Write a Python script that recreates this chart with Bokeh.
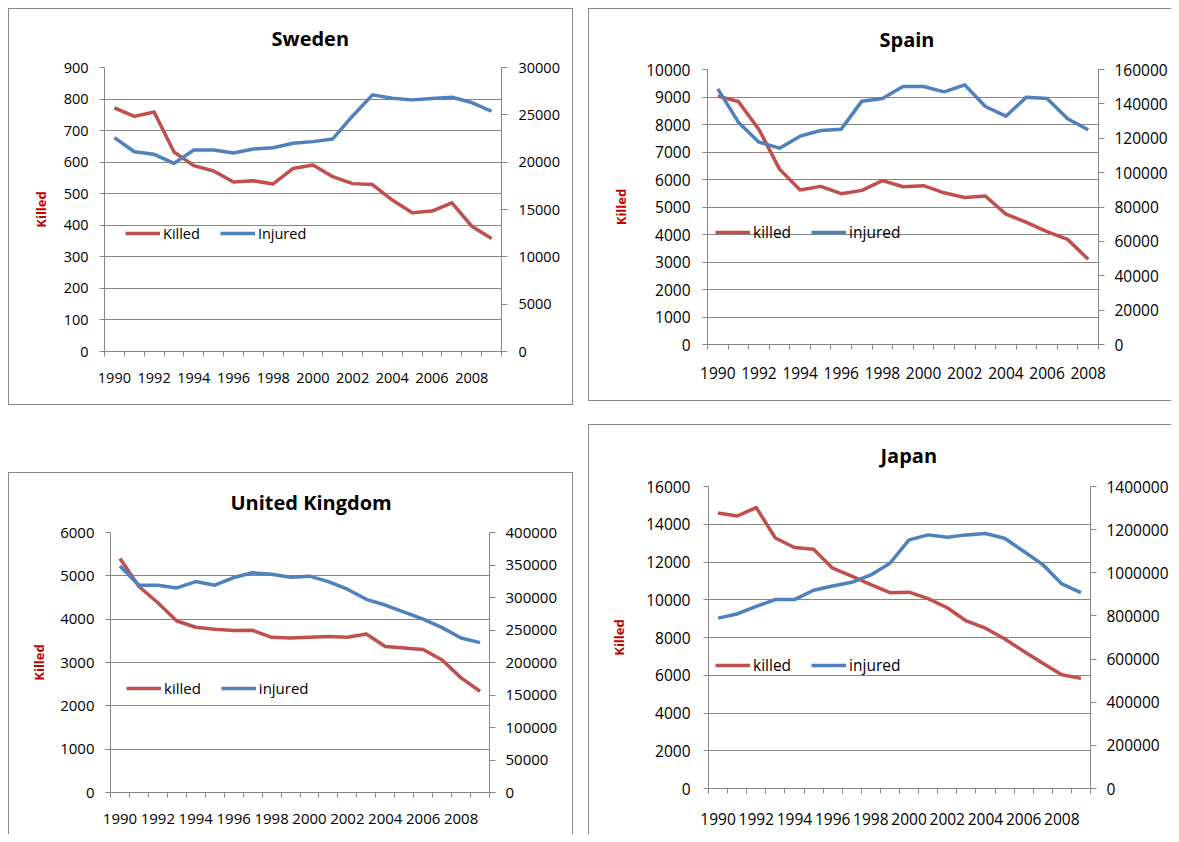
from bokeh.plotting import figure
from bokeh.models import (Range1d, LinearAxis, FixedTicker, SingleIntervalTicker,
                          BasicTickFormatter, Legend, LegendItem, Spacer)
from bokeh.layouts import row, column
from bokeh.embed import file_html
from bokeh.resources import INLINE

# ---------------- data ----------------
years_sweden = list(range(1990, 2010))
sweden_killed = [772, 745, 759, 632, 589, 572, 537, 541, 531, 580,
                 591, 554, 532, 529, 480, 440, 445, 471, 397, 358]
sweden_injured = [22590, 21100, 20830, 19870, 21280, 21280, 20970, 21390, 21530, 21990,
                  22170, 22450, 24880, 27110, 26760, 26580, 26720, 26860, 26300, 25380]

years_spain = list(range(1990, 2009))
spain_killed = [9032, 8836, 7818, 6378, 5615, 5751, 5483, 5604, 5957, 5738,
                5776, 5517, 5347, 5399, 4741, 4442, 4104, 3823, 3100]
spain_injured = [148760, 129360, 117730, 114240, 121220, 124510, 125290, 141580, 143130, 150110,
                 150110, 147010, 151080, 138480, 132850, 143910, 143130, 131300, 124900]

years_uk = list(range(1990, 2010))
uk_killed = [5402, 4753, 4379, 3957, 3814, 3765, 3740, 3743, 3581, 3564,
             3580, 3598, 3581, 3658, 3368, 3336, 3300, 3059, 2645, 2337]
uk_injured = [348300, 318900, 318900, 314700, 324500, 318900, 330700, 338000, 335900, 331300,
              332800, 324500, 312700, 297200, 288400, 277500, 266700, 253700, 237700, 230500]

years_japan = list(range(1990, 2010))
japan_killed = [14595, 14436, 14886, 13269, 12768, 12670, 11674, 11254, 10805, 10372,
                10403, 10060, 9575, 8877, 8492, 7931, 7272, 6639, 6023, 5834]
japan_injured = [790000, 809100, 844700, 875600, 875600, 918900, 939000, 956000, 990100, 1044200,
                 1152500, 1175700, 1164900, 1175700, 1181900, 1160300, 1099900, 1038100, 948300, 908100]

RED = "#C0504D"
BLUE = "#4F81BD"
GRID = "#868686"
BOX = "#8a8a8a"
AXLAB = "#C00000"
FONT = "Open Sans"


def make_chart(title, years, killed, injured, lmax, lstep, rmax, rstep,
               width, height, mb_left, mb_right, mb_top, mb_bottom,
               fs, lstand, rstand, bstand, alstand, title_off, title_stand,
               leg_loc, leg_labels, box_shadow):
    p = figure(width=width, height=height, title=title,
               output_backend="svg", toolbar_location=None,
               x_range=Range1d(years[0] - 0.5, years[-1] + 0.5),
               y_range=Range1d(0, lmax),
               min_border_left=mb_left, min_border_right=mb_right,
               min_border_top=mb_top, min_border_bottom=mb_bottom,
               styles={"box-shadow": box_shadow})
    if "frame_align" in p.properties():
        p.frame_align = False
    p.border_fill_color = None
    p.background_fill_color = "white"
    p.outline_line_color = None

    p.title.align = "left"
    p.title.offset = title_off
    p.title.vertical_align = "middle"
    p.title.standoff = title_stand
    p.title.text_font = FONT
    p.title.text_font_style = "bold"
    p.title.text_font_size = "20px"
    p.title.text_color = "black"

    p.extra_y_ranges = {"inj": Range1d(0, rmax)}

    # bottom axis (category style)
    xa = p.xaxis[0]
    xa.ticker = FixedTicker(ticks=years[::2],
                            minor_ticks=[y - 0.5 for y in years] + [years[-1] + 0.5])
    xa.major_tick_out = 0
    xa.major_tick_in = 0
    xa.minor_tick_out = 5
    xa.minor_tick_in = 0
    xa.minor_tick_line_color = GRID
    xa.axis_line_color = GRID
    xa.major_label_standoff = bstand
    xa.major_label_text_font = FONT
    xa.major_label_text_font_size = fs
    xa.major_label_text_color = "black"
    p.xgrid.grid_line_color = None

    # left axis
    ya = p.yaxis[0]
    ya.ticker = SingleIntervalTicker(interval=lstep, num_minor_ticks=0)
    ya.formatter = BasicTickFormatter(use_scientific=False)
    ya.major_tick_out = 5
    ya.major_tick_in = 0
    ya.minor_tick_line_color = None
    ya.major_tick_line_color = GRID
    ya.axis_line_color = GRID
    ya.major_label_standoff = lstand
    ya.major_label_text_font = FONT
    ya.major_label_text_font_size = fs
    ya.major_label_text_color = "black"
    ya.axis_label = "Killed"
    ya.axis_label_text_color = AXLAB
    ya.axis_label_text_font = FONT
    ya.axis_label_text_font_style = "bold"
    ya.axis_label_text_font_size = "13px"
    ya.axis_label_standoff = alstand
    p.ygrid.grid_line_color = GRID
    p.ygrid.grid_line_width = 1

    # right axis
    ra = LinearAxis(y_range_name="inj",
                    ticker=SingleIntervalTicker(interval=rstep, num_minor_ticks=0),
                    formatter=BasicTickFormatter(use_scientific=False))
    ra.major_tick_out = 6
    ra.major_tick_in = 0
    ra.minor_tick_line_color = None
    ra.major_tick_line_color = GRID
    ra.axis_line_color = GRID
    ra.major_label_standoff = rstand
    ra.major_label_text_font = FONT
    ra.major_label_text_font_size = fs
    ra.major_label_text_color = "black"
    p.add_layout(ra, "right")

    r1 = p.line(years, killed, line_color=RED, line_width=3.5, line_join="round")
    r2 = p.line(years, injured, y_range_name="inj", line_color=BLUE,
                line_width=3.5, line_join="round")

    leg = Legend(items=[LegendItem(label=leg_labels[0], renderers=[r1]),
                        LegendItem(label=leg_labels[1], renderers=[r2])],
                 orientation="horizontal", location=leg_loc,
                 background_fill_alpha=0, border_line_color=None,
                 glyph_width=35, glyph_height=20, label_height=20,
                 label_standoff=3, spacing=20, padding=0, margin=0,
                 label_text_font=FONT, label_text_font_size=fs,
                 label_text_color="black")
    p.add_layout(leg)
    return p


sweden = make_chart("Sweden", years_sweden, sweden_killed, sweden_injured,
                    900, 100, 30000, 5000,
                    565, 397, 96, 72, 59, 54,
                    "14.5px", 11, 11, 16, 11, 167, 30,
                    (21, 108), ("Killed", "Injured"),
                    "inset 0 0 0 1px " + BOX)

uk = make_chart("United Kingdom", years_uk, uk_killed, uk_injured,
                6000, 1000, 400000, 50000,
                565, 362, 102, 84, 60, 42,
                "15px", 11, 10, 16, 9, 120, 31,
                (16, 94), ("killed", "injured"),
                "inset 1px 1px 0 0 " + BOX + ", inset -1px 0 0 0 " + BOX)

spain = make_chart("Spain", years_spain, spain_killed, spain_injured,
                   10000, 1000, 160000, 20000,
                   583, 393, 119, 73, 61, 57,
                   "15.5px", 12, 10, 17, 13, 172, 32,
                   (8, 101), ("killed", "injured"),
                   "inset 1px 1px 0 0 " + BOX + ", inset 0 -1px 0 0 " + BOX)

japan = make_chart("Japan", years_japan, japan_killed, japan_injured,
                   16000, 2000, 1400000, 200000,
                   583, 410, 120, 79, 62, 46,
                   "15.5px", 13, 10, 19, 15, 172, 33,
                   (7, 112), ("killed", "injured"),
                   "inset 1px 1px 0 0 " + BOX)

content = row(column(sweden, Spacer(width=565, height=67), uk),
              Spacer(width=15, height=10),
              column(spain, Spacer(width=583, height=23), japan))

layout = column(Spacer(width=1171, height=8),
                row(Spacer(width=8, height=826), content))

open("out.html", "w").write(file_html(layout, INLINE))
